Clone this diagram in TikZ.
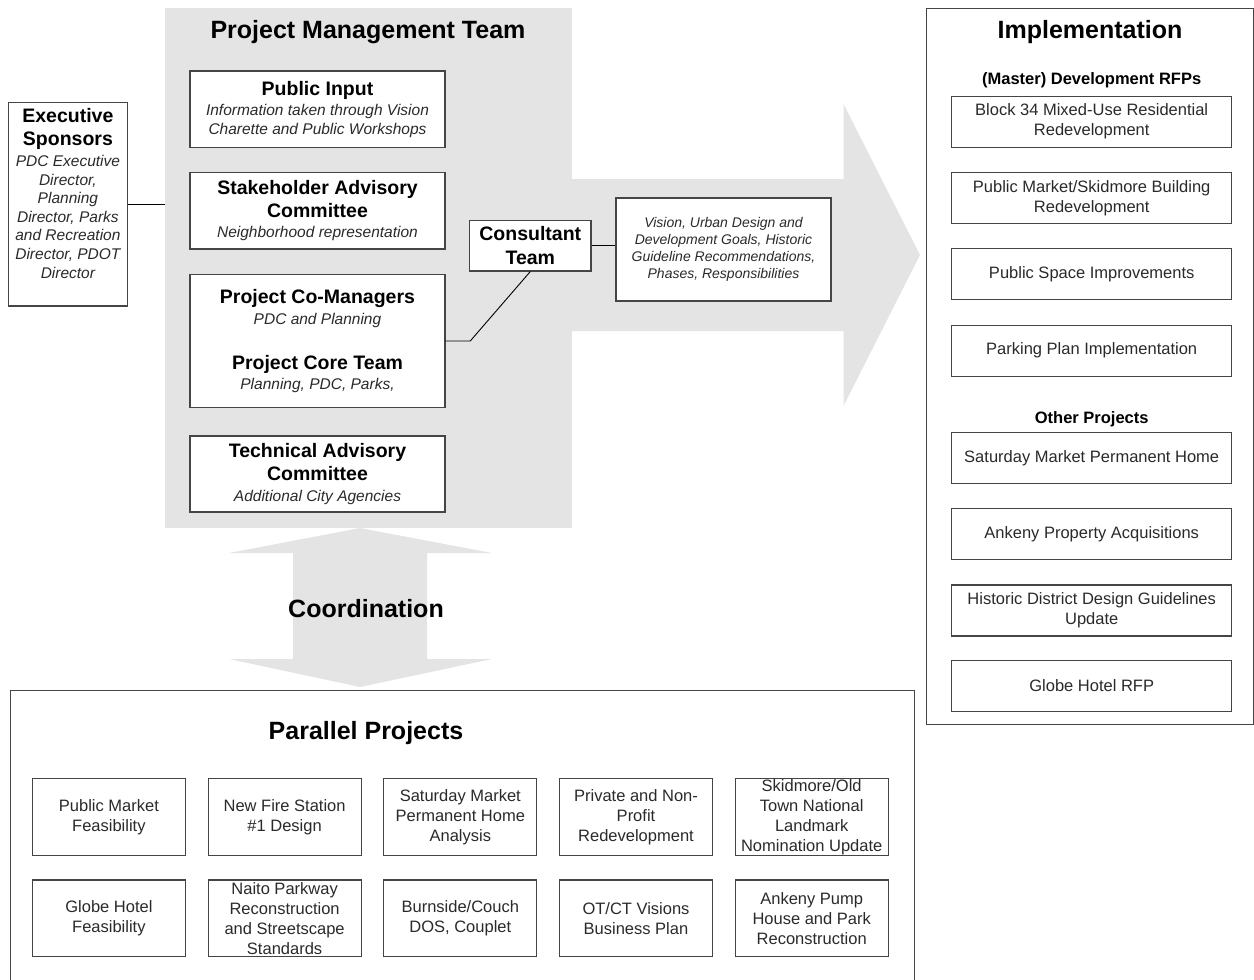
\documentclass[tikz,border=0pt]{standalone}
\usepackage{fontspec}
\setmainfont{Liberation Sans}
\definecolor{panel}{HTML}{E4E4E4}
\definecolor{rule}{HTML}{454545}
\definecolor{note}{HTML}{2A2A2A}
\newcommand\bigtitle{\fontsize{25}{29}\selectfont\bfseries}
\newcommand\boxhead{\fontsize{19.5}{23}\selectfont\bfseries\color{black}}
\newcommand\boxnote{\fontsize{15.5}{18.5}\selectfont\itshape\color{note}}
\newcommand\plain{\fontsize{16.5}{20}\selectfont\color{note}}
\newcommand\visnote{\fontsize{14}{17}\selectfont\itshape\color{note}}
\newcommand\smallhead{\fontsize{16.5}{20}\selectfont\bfseries}
\tikzset{
  card/.style 2 args={draw=rule, fill=white, line width=1.1pt, align=center, inner sep=0pt,
    minimum width=#1, minimum height=#2},
  mgmt/.style={font=\fontsize{15.5}{20.5}\selectfont},
  impl/.style={font=\fontsize{16.5}{20}\selectfont},
  frame/.style={draw=rule, line width=1pt, inner sep=0pt, anchor=north west},
  link/.style={draw=black, line width=0.9pt},
}
\begin{document}
\begin{tikzpicture}[x=1pt,y=-1pt]
  \useasboundingbox (0,0) rectangle (1254,980);

  % grey backdrop and the two big arrows
  \node[fill=panel, inner sep=0pt, minimum width=407pt, minimum height=520pt] (pmt) at (368.5,268) {};
  \fill[panel] (572,179) -- (843.5,179) -- (843.5,104) -- (920,255) -- (843.5,406) -- (843.5,331) -- (572,331) -- cycle;
  \fill[panel] (360,528) -- (492,553) -- (427,553) -- (427,659) -- (492,659) -- (360,687)
    -- (229,659) -- (293,659) -- (293,553) -- (229,553) -- cycle;

  \node (pmttitle) at (368,32) {\bigtitle Project Management Team};
  \node (coord) at (366,609) {\bigtitle Coordination};

  \node[card={255pt}{76.4pt}, mgmt] (pubin) at (317.5,109.2)
    {\boxhead Public Input\\ \boxnote Information taken through Vision\\[-2pt] \boxnote Charette and Public Workshops};
  \node[card={255pt}{76.2pt}, mgmt] (stake) at (317.5,210.9)
    {\boxhead Stakeholder Advisory\\[2pt] \boxhead Committee\\ \boxnote Neighborhood representation};
  \node[card={255pt}{133pt}, mgmt] (coman) at (317.5,341)
    {\boxhead Project Co-Managers\\[1pt] \boxnote PDC and Planning\\[24pt] \boxhead Project Core Team\\ \boxnote Planning, PDC, Parks,};
  \node[card={255pt}{76pt}, mgmt] (tech) at (317.5,474)
    {\boxhead Technical Advisory\\[2.5pt] \boxhead Committee\\ \boxnote Additional City Agencies};

  \node[card={118.3pt}{203.6pt}] (exec) at (67.9,204.2) {};
  \node[anchor=north, align=center, inner sep=0pt, font=\fontsize{15.5}{18.6}\selectfont] (exectxt) at (67.9,108)
    {\boxhead Executive\\[5pt] \boxhead Sponsors\\[2pt] \boxnote PDC Executive\\ \boxnote Director,\\ \boxnote Planning\\
     \boxnote Director, Parks\\ \boxnote and Recreation\\ \boxnote Director, PDOT\\ \boxnote Director};

  \node[card={121.3pt}{50.6pt}, font=\fontsize{19.5}{23.7}\selectfont] (consult) at (530.3,245.7)
    {\boxhead Consultant\\ \boxhead Team};
  \node[card={215pt}{103pt}, font=\fontsize{14}{16.9}\selectfont] (vision) at (723.5,249.5)
    {\visnote Vision, Urban Design and\\ \visnote Development Goals, Historic\\
     \visnote Guideline Recommendations,\\ \visnote Phases, Responsibilities};

  \draw[link] (exec.east) -- (exec.east -| pmt.west);
  \draw[link] (coman.east) -- ++(24.7,0) -- (consult.south);
  \draw[link] (consult.east) -- (consult.east -| vision.west);

  % implementation column
  \node[frame, minimum width=327pt, minimum height=716pt] (implframe) at (926,8) {};
  \node (impltitle) at (1090,32) {\bigtitle Implementation};
  \node (rfps) at (1091.7,80) {\smallhead (Master) Development RFPs};
  \node[card={280pt}{51pt}, impl] (block) at (1091.7,121.7) {\plain Block 34 Mixed-Use Residential\\ \plain Redevelopment};
  \node[card={280pt}{51pt}, impl] (market) at (1091.7,198.1) {\plain Public Market/Skidmore Building\\ \plain Redevelopment};
  \node[card={280pt}{51pt}, impl] (space) at (1091.7,274.2) {\plain Public Space Improvements};
  \node[card={280pt}{51pt}, impl] (parking) at (1091.7,350.6) {\plain Parking Plan Implementation};
  \node (other) at (1091.7,419) {\smallhead Other Projects};
  \node[card={280pt}{51pt}, impl] (satur) at (1091.7,458) {\plain Saturday Market Permanent Home};
  \node[card={280pt}{51pt}, impl] (ankeny) at (1091.7,534.2) {\plain Ankeny Property Acquisitions};
  \node[card={280pt}{51pt}, impl] (guide) at (1091.7,610.5) {\plain Historic District Design Guidelines\\ \plain Update};
  \node[card={280pt}{51pt}, impl] (globe) at (1091.7,686) {\plain Globe Hotel RFP};

  % parallel projects
  \node[frame, minimum width=903.3pt, minimum height=310pt] (parframe) at (10.3,690) {};
  \node (partitle) at (366,733) {\bigtitle Parallel Projects};
  \node[card={153pt}{76.3pt}, impl] (pmfeas) at (108.9,817) {\plain Public Market\\ \plain Feasibility};
  \node[card={153pt}{76.3pt}, impl] (fire) at (284.6,817) {\plain New Fire Station\\ \plain \#1 Design};
  \node[card={153pt}{76.3pt}, impl] (satan) at (460.3,817) {\plain Saturday Market\\ \plain Permanent Home\\ \plain Analysis};
  \node[card={153pt}{76.3pt}, impl] (priv) at (636,817) {\plain Private and Non-\\ \plain Profit\\ \plain Redevelopment};
  \node[card={153pt}{76.3pt}, impl] (skid) at (811.7,817) {\plain Skidmore/Old\\ \plain Town National\\ \plain Landmark\\ \plain Nomination Update};
  \node[card={153pt}{76.7pt}, impl] (ghfeas) at (108.9,918.3) {\plain Globe Hotel\\ \plain Feasibility};
  \node[card={153pt}{76.7pt}, impl] (naito) at (284.6,918.3) {\plain Naito Parkway\\ \plain Reconstruction\\ \plain and Streetscape\\ \plain Standards};
  \node[card={153pt}{76.7pt}, impl] (burn) at (460.3,918.3) {\plain Burnside/Couch\\ \plain DOS, Couplet};
  \node[card={153pt}{76.7pt}, impl] (otct) at (636,918.3) {\plain OT/CT Visions\\ \plain Business Plan};
  \node[card={153pt}{76.7pt}, impl] (pump) at (811.7,918.3) {\plain Ankeny Pump\\ \plain House and Park\\ \plain Reconstruction};
\end{tikzpicture}
\end{document}
